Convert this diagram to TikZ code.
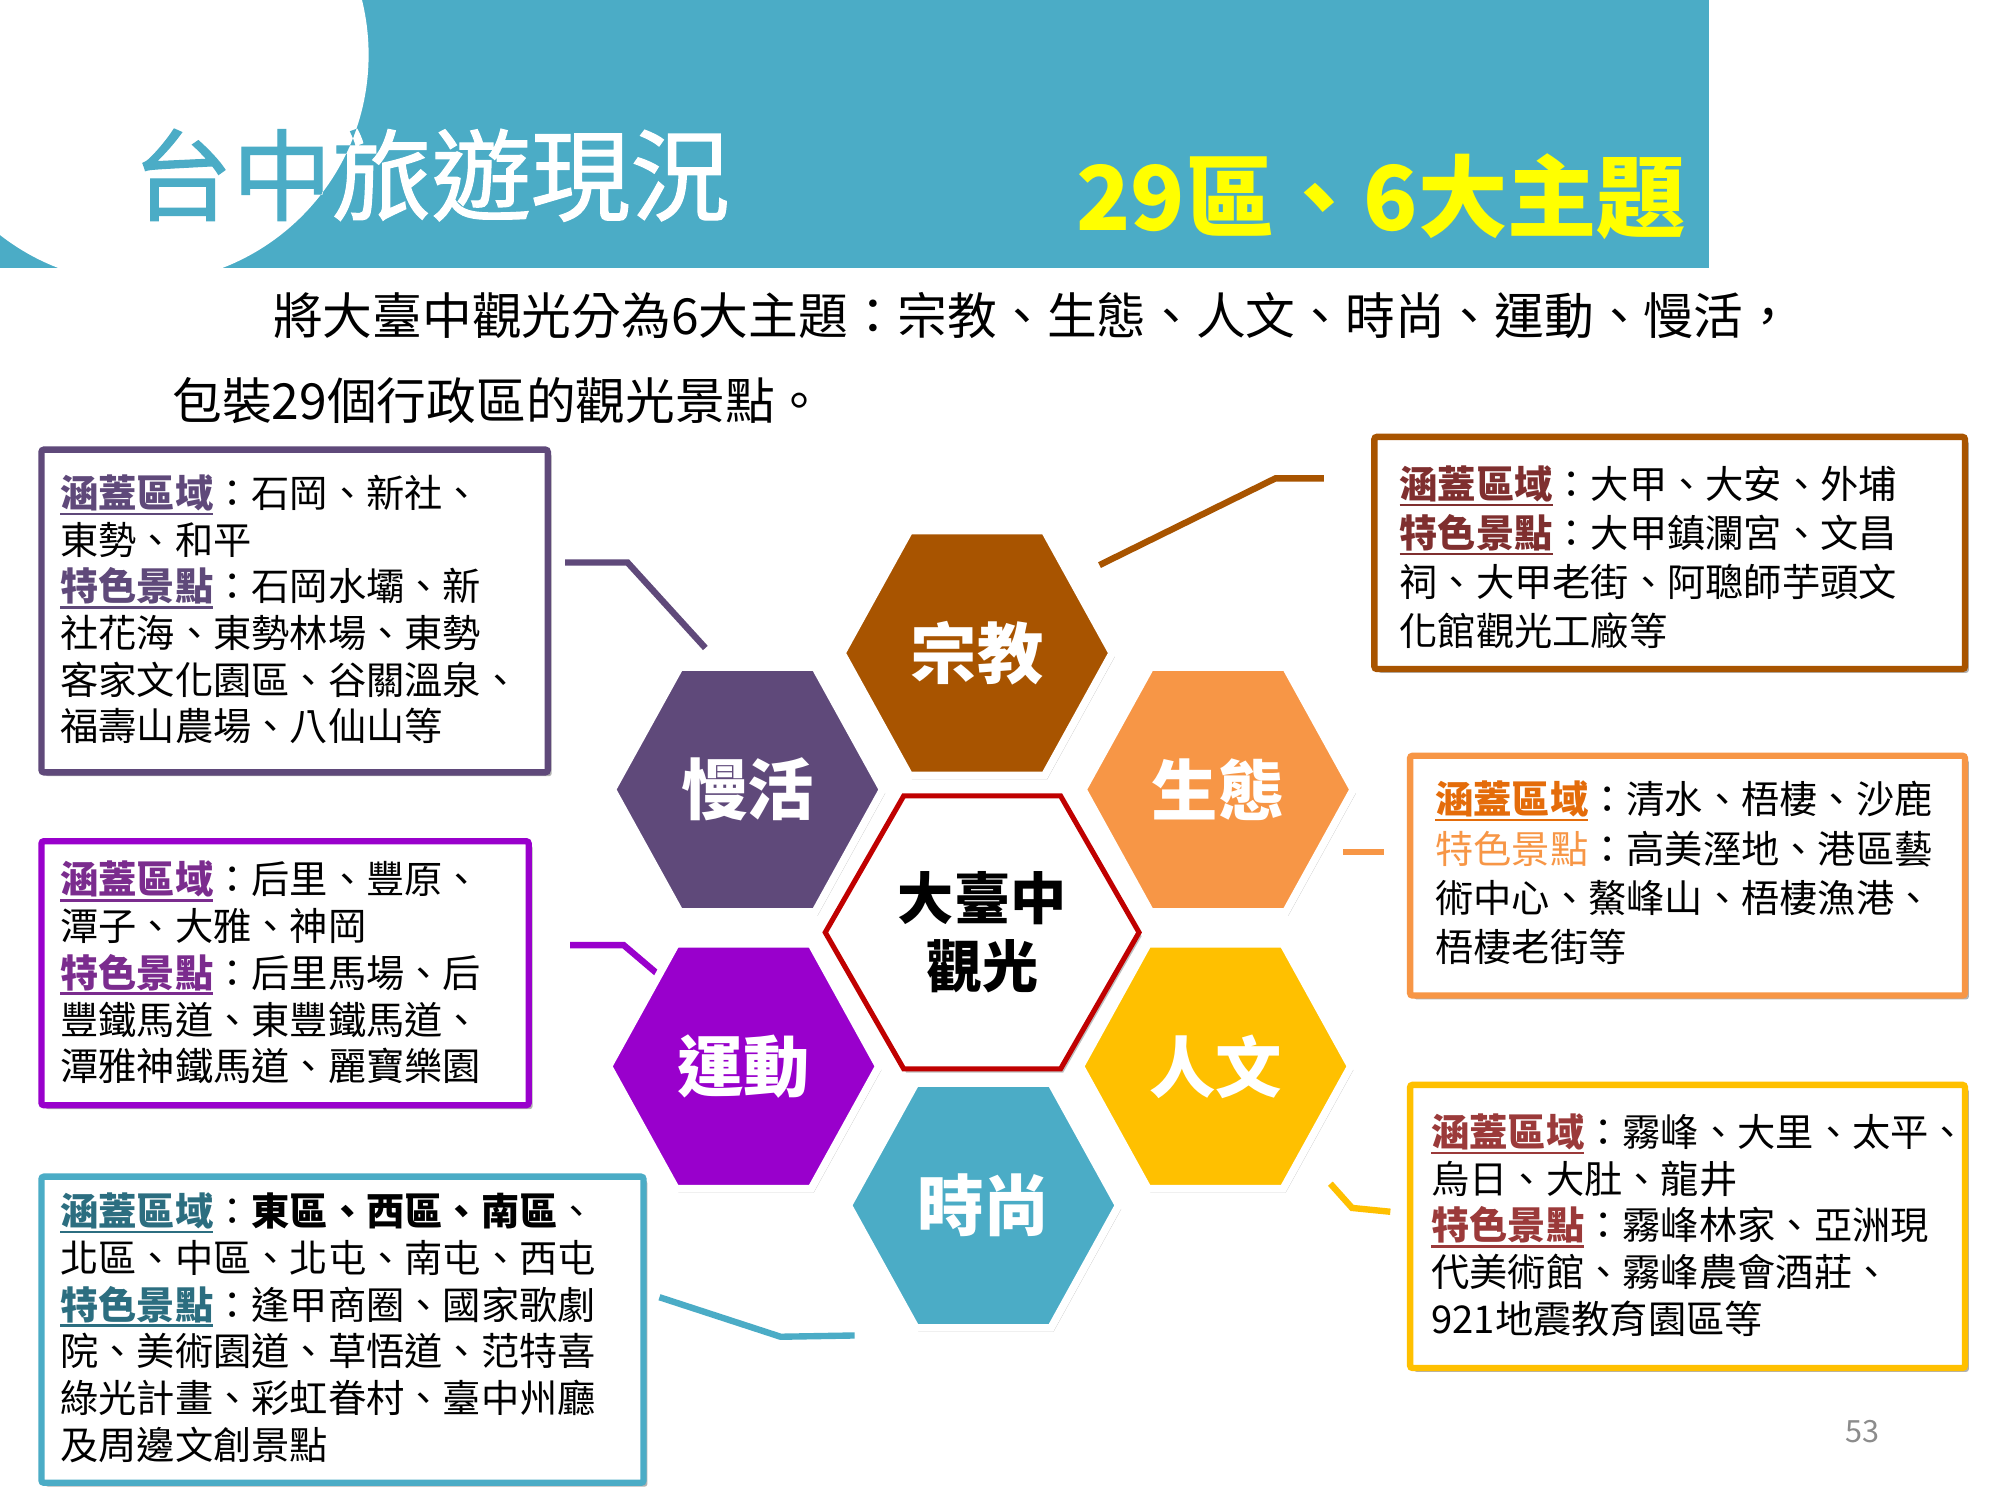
\documentclass[tikz,border=0pt]{standalone}
\usepackage{fontspec}
\setmainfont{Noto Sans CJK TC}
\newfontfamily\titlef[FakeBold=1.2]{Noto Sans CJK TC}
\usetikzlibrary{shapes.geometric,shadows,calc}
\definecolor{cblue}{HTML}{4BACC6}
\definecolor{cyel}{HTML}{FFFF00}
\definecolor{cbrown}{HTML}{A85400}
\definecolor{cplum}{HTML}{5F497A}
\definecolor{corange}{HTML}{F79646}
\definecolor{cviolet}{HTML}{9900CC}
\definecolor{cgold}{HTML}{FFC000}
\definecolor{cred}{HTML}{C00000}
\definecolor{lplum}{HTML}{5F497A}
\definecolor{lviolet}{HTML}{7B2C8E}
\definecolor{lteal}{HTML}{2C6E80}
\definecolor{lbrown}{HTML}{7F2F2F}
\definecolor{lorange}{HTML}{E46C0A}
\definecolor{lred}{HTML}{9B3A3A}
\newcommand\lab[2]{{\color{#1}\bfseries\setbox0\hbox{#2}\rlap{\rule[-6pt]{\wd0}{2pt}}\box0}}
% hexagon path round a named coordinate: name, half width, half height, style
\newcommand\hexpath[4]{\path[#4] ($(#1)+(-#2,0)$) -- ++(#2/2,-#3) -- ++(#2,0) -- ++(#2/2,#3) -- ++(-#2/2,#3) -- ++(-#2,0) -- cycle;}
\begin{document}
\begin{tikzpicture}[x=1pt,y=-1pt,
  hexo/.style={draw=white, line width=6pt, line join=miter,
    drop shadow={shadow xshift=2pt, shadow yshift=-3pt, opacity=0.25, fill=black}},
  hexlab/.style={inner sep=0pt, text=white, font=\bfseries\fontsize{52}{56}\selectfont},
  boxst/.style={draw, line width=5pt, fill=white, rounded corners=2pt, anchor=north west, inner sep=0pt,
    drop shadow={shadow xshift=3pt, shadow yshift=-3pt, opacity=0.3, fill=black}},
  txt/.style={anchor=north west, inner sep=0pt, align=left, font=\fontsize{30}{36.6}\selectfont},
  conn/.style={line width=5pt, line cap=butt, line join=miter}]
\useasboundingbox (0,0) rectangle (1568,1176);
\fill[white] (0,0) rectangle (1568,1176);
% header
\fill[cblue] (0,0) rectangle (1340,210);
\fill[white] (110,43) circle[radius=179];
\node[anchor=base west, inner sep=0pt, text=white, font=\titlef\fontsize{78}{84}\selectfont] (title) at (104,167) {台中旅遊現況};
\begin{scope}
\clip (110,43) circle[radius=179];
\node[anchor=base west, inner sep=0pt, text=cblue, font=\titlef\fontsize{78}{84}\selectfont] (titleb) at (104,167) {台中旅遊現況};
\end{scope}
\node[anchor=base east, inner sep=0pt, text=cyel, font=\bfseries\fontsize{70}{74}\selectfont] (sub) at (1322,181) {29區、6大主題};
% intro
\node[anchor=base west, inner sep=0pt, font=\fontsize{39}{44}\selectfont] (l1) at (214,262) {將大臺中觀光分為6大主題：宗教、生態、人文、時尚、運動、慢活，};
\node[anchor=base west, inner sep=0pt, font=\fontsize{39}{44}\selectfont] (l2) at (135,329) {包裝29個行政區的觀光景點。};
% boxes
\node[boxst, draw=cplum, minimum width=397pt, minimum height=253pt] (b1) at (30,350) {};
\node[boxst, draw=cviolet, minimum width=382pt, minimum height=207pt] (b2) at (30,657) {};
\node[boxst, draw=cblue, minimum width=472pt, minimum height=240pt] (b3) at (30,920) {};
\node[boxst, draw=cbrown, minimum width=463pt, minimum height=182pt] (b4) at (1075,340) {};
\node[boxst, draw=corange, minimum width=435pt, minimum height=188pt] (b5) at (1103,590) {};
\node[boxst, draw=cgold, minimum width=435pt, minimum height=222pt] (b6) at (1103,848) {};
% box texts
\node[txt] (t1) at (47,372) {\lab{lplum}{涵蓋區域}：石岡、新社、\\東勢、和平\\\lab{lplum}{特色景點}：石岡水壩、新\\社花海、東勢林場、東勢\\客家文化園區、谷關溫泉、\\福壽山農場、八仙山等};
\node[txt] (t2) at (47,675) {\lab{lviolet}{涵蓋區域}：后里、豐原、\\潭子、大雅、神岡\\\lab{lviolet}{特色景點}：后里馬場、后\\豐鐵馬道、東豐鐵馬道、\\潭雅神鐵馬道、麗寶樂園};
\node[txt] (t3) at (47,935) {\lab{lteal}{涵蓋區域}：{\bfseries 東區、西區、南區}、\\北區、中區、北屯、南屯、西屯\\\lab{lteal}{特色景點}：逢甲商圈、國家歌劇\\院、美術園道、草悟道、范特喜\\綠光計畫、彩虹眷村、臺中州廳\\及周邊文創景點};
\node[txt, font=\fontsize{30}{38.4}\selectfont] (t4) at (1097,365) {\lab{lbrown}{涵蓋區域}：大甲、大安、外埔\\\lab{lbrown}{特色景點}：大甲鎮瀾宮、文昌\\祠、大甲老街、阿聰師芋頭文\\化館觀光工廠等};
\node[txt, font=\fontsize{30}{38.7}\selectfont] (t5) at (1125,612) {\lab{lorange}{涵蓋區域}：清水、梧棲、沙鹿\\{\color{corange}特色景點}：高美溼地、港區藝\\術中心、鰲峰山、梧棲漁港、\\梧棲老街等};
\node[txt] (t6) at (1122,873) {\lab{lred}{涵蓋區域}：霧峰、大里、太平、\\烏日、大肚、龍井\\\lab{lred}{特色景點}：霧峰林家、亞洲現\\代美術館、霧峰農會酒莊、\\921地震教育園區等};
% connectors
\coordinate (m1) at (443,441); \coordinate (m2) at (492,441); \coordinate (m3) at (553,508);
\draw[conn, cplum] (m1) -- (m2) -- (m3);
\coordinate (z1) at (862,443); \coordinate (z2) at (1000,375); \coordinate (z3) at (1038,375);
\draw[conn, cbrown] (z1) -- (z2) -- (z3);
\coordinate (s1) at (1053,668); \coordinate (s2) at (1085,668);
\draw[conn, corange] (s1) -- (s2);
\coordinate (y1) at (447,741); \coordinate (y2) at (489,741); \coordinate (y3) at (529,775);
\draw[conn, cviolet] (y1) -- (y2) -- (y3);
\coordinate (r1) at (1043,928); \coordinate (r2) at (1060,947); \coordinate (r3) at (1090,950);
\draw[conn, cgold] (r1) -- (r2) -- (r3);
\coordinate (f1) at (517,1017); \coordinate (f2) at (612,1048); \coordinate (f3) at (670,1047);
\draw[conn, cblue] (f1) -- (f2) -- (f3);
% hexagons
\coordinate (czc) at (766,512);
\coordinate (cmc) at (586,619);
\coordinate (csc) at (955,619);
\coordinate (cyc) at (583,836);
\coordinate (crc) at (953,836);
\coordinate (cfc) at (771,945);
\coordinate (ccc) at (770,731);
\hexpath{czc}{106}{96}{hexo, fill=cbrown}
\hexpath{cmc}{106}{96}{hexo, fill=cplum}
\hexpath{csc}{106}{96}{hexo, fill=corange}
\hexpath{cyc}{106}{96}{hexo, fill=cviolet}
\hexpath{crc}{106}{96}{hexo, fill=cgold}
\hexpath{cfc}{106}{96}{hexo, fill=cblue}
\hexpath{ccc}{123}{107}{draw=cred, fill=white, line width=4pt, line join=miter, drop shadow={shadow xshift=2pt, shadow yshift=-3pt, opacity=0.25, fill=black}}
\node[hexlab] (hz) at (czc) {宗教};
\node[hexlab] (hm) at (cmc) {慢活};
\node[hexlab] (hs) at (csc) {生態};
\node[hexlab] (hy) at (cyc) {運動};
\node[hexlab] (hr) at (crc) {人文};
\node[hexlab] (hf) at (cfc) {時尚};
\node[inner sep=0pt, align=center, font=\bfseries\fontsize{44}{53}\selectfont] (hc) at (ccc) {大臺中\\觀光};
% page number
\node[text=black!45, inner sep=0pt, font=\fontsize{24}{28}\selectfont] (pg) at (1460,1122) {53};
\end{tikzpicture}
\end{document}
